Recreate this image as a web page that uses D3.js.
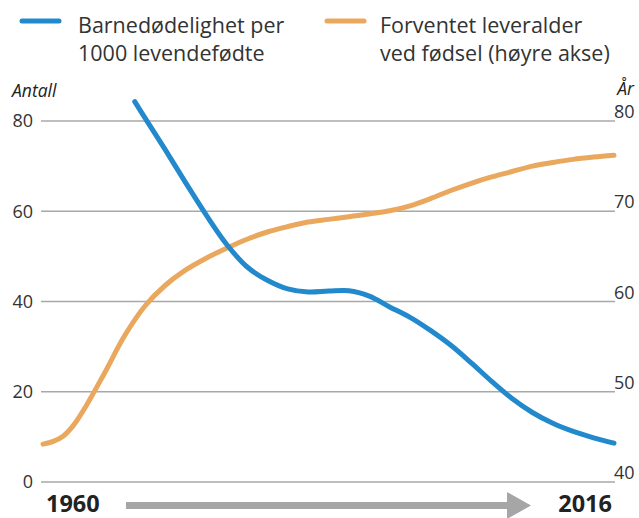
<!DOCTYPE html>
<html><head><meta charset="utf-8">
<script src="https://cdn.jsdelivr.net/npm/d3@7"></script>
<style>body{margin:0;background:#fff}svg{display:block}text{font-family:"Open Sans","Noto Sans",sans-serif}</style>
</head><body><svg id="c" width="639" height="518"></svg>
<script>
const lifeYears = [1960,1961,1962,1963,1964,1966,1968,1970,1972,1974,1976,1978,1980,1982,1984,1986,1988,1990,1992,1994,1996,1998,2000,2002,2004,2006,2008,2010,2012,2014,2016];
const lifeExp   = [44.2,44.5,45.1,46.3,48.0,52.0,56.2,59.5,61.8,63.5,64.8,65.9,66.9,67.7,68.3,68.8,69.1,69.4,69.7,70.05,70.6,71.4,72.3,73.1,73.8,74.4,75.0,75.4,75.75,76.0,76.2];
const mortYears = [1969,1970,1972,1974,1976,1978,1980,1982,1984,1986,1988,1990,1992,1994,1996,1998,2000,2002,2004,2006,2008,2010,2012,2014,2016];
const mortality = [84.3,80.7,73.6,66.3,59.2,52.7,47.7,44.7,42.8,42.1,42.3,42.4,41.2,38.8,36.5,33.6,30.3,26.4,22.3,18.5,15.4,13.0,11.2,9.8,8.6];
const leftTicks = [0,20,40,60,80];
const rightTicks = [40,50,60,70,80];
const legendLabels = [["Barnedødelighet per","1000 levendefødte"],["Forventet leveralder","ved fødsel (høyre akse)"]];
const colors = ["#2189cc","#e9a85d"];

const svg = d3.select("#c");
const x = d3.scaleLinear().domain([1960,2016]).range([43,614]);
const yL = d3.scaleLinear().domain([0,80]).range([482,121]);
const yR = d3.scaleLinear().domain([40,80]).range([482,121]);

// grid
svg.append("g").selectAll("line").data(leftTicks).join("line")
  .attr("x1",41).attr("x2",615).attr("y1",d=>yL(d)).attr("y2",d=>yL(d))
  .attr("stroke","#a8a8a8").attr("stroke-width",1.3);

// left axis labels
svg.append("g").selectAll("text").data(leftTicks).join("text")
  .attr("x",33).attr("y",d=>yL(d)).attr("dy","0.36em").attr("text-anchor","end")
  .attr("font-size",18).attr("fill","#333").text(d=>d);
// right axis labels
svg.append("g").selectAll("text").data(rightTicks).join("text")
  .attr("x",614).attr("y",d=>yR(d)-3).attr("text-anchor","start")
  .attr("font-size",18).attr("fill","#333").text(d=>d);

svg.append("text").attr("x",12).attr("y",97).attr("font-size",17.5).attr("font-style","italic").attr("fill","#222").text("Antall");
svg.append("text").attr("x",634).attr("y",95).attr("text-anchor","end").attr("font-size",17.5).attr("font-style","italic").attr("fill","#222").text("År");

// lines
const lineL = d3.line().x(d=>x(d[0])).y(d=>yL(d[1])).curve(d3.curveCatmullRom.alpha(0.5));
const lineR = d3.line().x(d=>x(d[0])).y(d=>yR(d[1])).curve(d3.curveCatmullRom.alpha(0.5));
svg.append("path").datum(lifeYears.map((y,i)=>[y,lifeExp[i]])).attr("d",lineR)
  .attr("fill","none").attr("stroke",colors[1]).attr("stroke-width",5).attr("stroke-linecap","round");
svg.append("path").datum(mortYears.map((y,i)=>[y,mortality[i]])).attr("d",lineL)
  .attr("fill","none").attr("stroke",colors[0]).attr("stroke-width",5).attr("stroke-linecap","round");

// legend
const lg = [{x:22,tx:78},{x:327,tx:380}];
lg.forEach((p,i)=>{
  svg.append("line").attr("x1",p.x).attr("x2",p.x+37).attr("y1",21).attr("y2",21)
    .attr("stroke",colors[i]).attr("stroke-width",5).attr("stroke-linecap","round");
  const t = svg.append("text").attr("x",p.tx).attr("y",33).attr("font-size",21.5).attr("fill","#333");
  legendLabels[i].forEach((s,j)=>t.append("tspan").attr("x",p.tx).attr("dy",j?28:0).text(s));
});

// bottom arrow and years
svg.append("rect").attr("x",126).attr("y",502).attr("width",384).attr("height",7).attr("fill","#a6a6a6");
svg.append("path").attr("d","M507,492L531,505.5L507,519Z").attr("fill","#a6a6a6");
svg.append("text").attr("x",46).attr("y",512).attr("font-size",23.5).attr("font-weight","bold").attr("fill","#222").text(lifeYears[0]);
svg.append("text").attr("x",612).attr("y",512).attr("text-anchor","end").attr("font-size",23.5).attr("font-weight","bold").attr("fill","#222").text(lifeYears[lifeYears.length-1]);
</script></body></html>
